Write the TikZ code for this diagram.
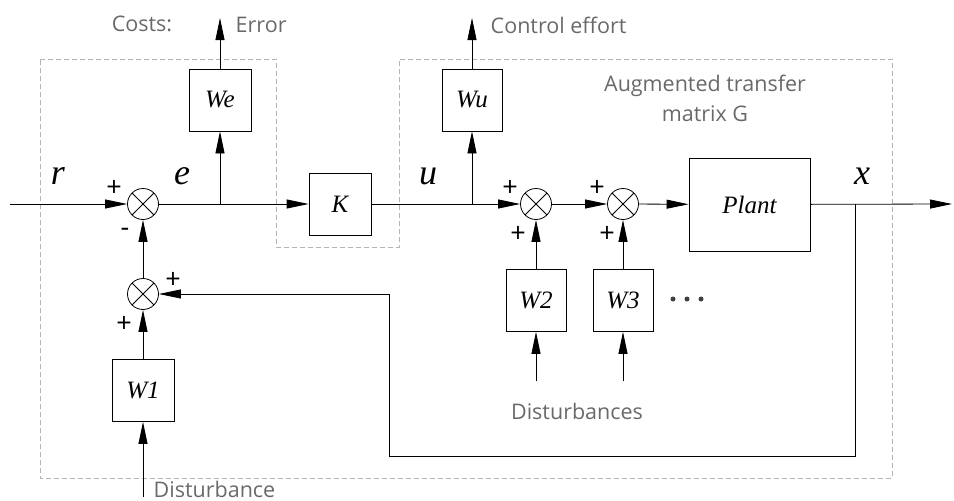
\documentclass[tikz,border=0pt]{standalone}
\usepackage{fontspec}
\setmainfont{Open Sans}
\newfontfamily\blkfont{Liberation Serif}
\usetikzlibrary{arrows.meta}
\definecolor{txtgray}{RGB}{105,105,105}
\definecolor{boxgray}{RGB}{180,180,180}
\tikzset{
  block/.style={draw,rectangle,minimum width=62pt,minimum height=62pt,inner sep=0pt,font=\fontsize{25}{28}\blkfont\itshape},
  sumnode/.style={draw,circle,minimum size=31pt,inner sep=0pt,
    path picture={\draw (path picture bounding box.north west)--(path picture bounding box.south east)
      (path picture bounding box.south west)--(path picture bounding box.north east);}},
  sig/.style={font=\fontsize{36}{38}\blkfont\itshape},
  sgn/.style={font=\fontsize{27}{29}\selectfont},
  note/.style={text=txtgray,font=\fontsize{21.5}{24}\selectfont},
}
\begin{document}
\begin{tikzpicture}[>={Triangle[length=22pt,width=9pt]},x=1pt,y=-1pt,line width=0.8pt]
	\useasboundingbox (0,0) rectangle (954,501);
	% dashed outline: costs + augmented plant
	\draw[boxgray,dash pattern=on 5pt off 3pt] (40,59) -- (276,59) -- (276,247) -- (399,247) -- (399,59)
		-- (892,59) -- (892,478) -- (40,478) -- cycle;
	% sums and blocks
	\node[sumnode] (sum1) at (143,204) {};
	\node[sumnode] (sum4) at (143,294) {};
	\node[sumnode] (sum2) at (536,204) {};
	\node[sumnode] (sum3) at (623,204) {};
	\node[block] (we) at (220,100) {We};
	\node[block] (k) at (340,204) {K};
	\node[block,minimum width=60pt] (wu) at (472,100) {Wu};
	\node[block,minimum width=121pt,minimum height=93pt] (plant) at (749.5,204.5) {Plant};
	\node[block] (w1) at (143,390.5) {W1};
	\node[block,minimum width=60pt] (w2) at (536,300.5) {W2};
	\node[block,minimum width=60pt] (w3) at (623,300.5) {W3};
	% free ends and branch points
	\coordinate (in) at (10,204);
	\coordinate (out) at (952,204);
	\coordinate (eb) at (220,204);
	\coordinate (ub) at (472,204);
	\coordinate (xb) at (855,204);
	\coordinate (fb) at (389,456);
	\coordinate (errtop) at (220,18);
	\coordinate (efftop) at (472,18);
	\coordinate (d1) at (143,497);
	\coordinate (d2) at (536,381);
	\coordinate (d3) at (623,381);
	% forward path
	\draw[->] (in) -- (sum1);
	\draw (sum1) -- (eb);
	\draw[->] (eb) -- (k);
	\draw (k) -- (ub);
	\draw[->] (ub) -- (sum2);
	\draw[->] (sum2) -- (sum3);
	\draw[->] (sum3) -- (plant);
	\draw[->] (plant) -- (out);
	% costs
	\draw[->] (eb) -- (we);
	\draw[->] (we) -- (errtop);
	\draw[->] (ub) -- (wu);
	\draw[->] (wu) -- (efftop);
	% feedback
	\draw[->] (xb) |- (fb) |- (sum4);
	\draw[->] (sum4) -- (sum1);
	% disturbances
	\draw[->] (d1) -- (w1);
	\draw[->] (w1) -- (sum4);
	\draw[->] (d2) -- (w2);
	\draw[->] (w2) -- (sum2);
	\draw[->] (d3) -- (w3);
	\draw[->] (w3) -- (sum3);
	\foreach \dx in {0,14,28}
		\fill[black!75] (673+\dx,299) circle (2.5pt);
	% signal names
	\node[sig] (r) at (58,176) {r};
	\node[sig] (e) at (182,176) {e};
	\node[sig] (u) at (428,176) {u};
	\node[sig] (x) at (862,176) {x};
	% signs
	\node[sgn] (p1) at (114,188) {+};
	\node[sgn] (m1) at (125,232) {-};
	\node[sgn] (p2) at (510,188) {+};
	\node[sgn] (p3) at (518,234) {+};
	\node[sgn] (p4) at (597,188) {+};
	\node[sgn] (p5) at (607,234) {+};
	\node[sgn] (p6) at (173,280) {+};
	\node[sgn] (p7) at (124,324) {+};
	% texts
	\node[note] (costs) at (142,24) {Costs:};
	\node[note,anchor=west] (error) at (232,25) {Error};
	\node[note,anchor=west] (effort) at (487,25) {Control effort};
	\node[note,align=center,font=\fontsize{21.5}{30}\selectfont] (aug) at (705,98) {Augmented transfer\\matrix G};
	\node[note] (dist) at (577,411) {Disturbances};
	\node[note,anchor=west] (dist1) at (150,489) {Disturbance};
\end{tikzpicture}
\end{document}
